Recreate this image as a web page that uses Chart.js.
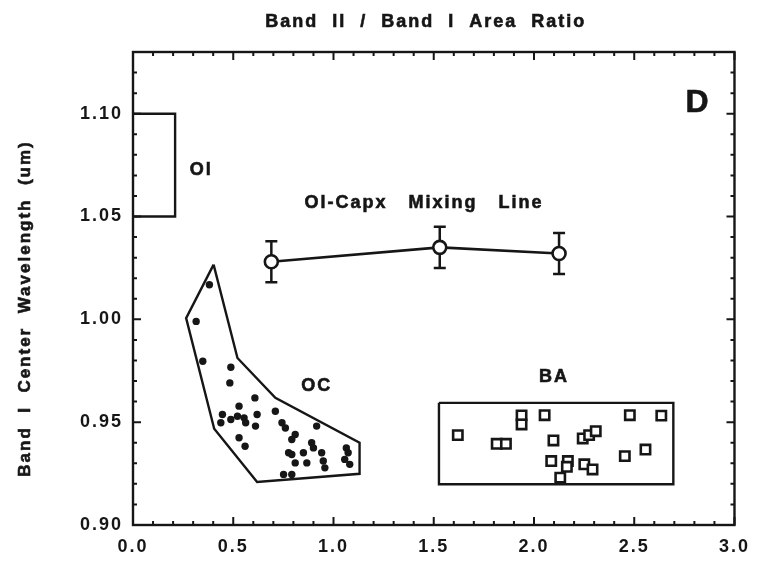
<!DOCTYPE html>
<html>
<head>
<meta charset="utf-8">
<script src="https://cdn.jsdelivr.net/npm/chart.js@4.4.0/dist/chart.umd.min.js"></script>
<style>
  html, body { margin: 0; padding: 0; background: #fff; }
</style>
</head>
<body>
<canvas id="chart" width="761" height="562"></canvas>
<script>
// Ol-Capx mixing line (with +/- error)
const mixX = [0.69, 1.53, 2.125];
const mixY = [1.028, 1.035, 1.032];
const mixErr = [0.01, 0.01, 0.01];

// OC samples
const ocX = [0.381, 0.315, 0.348, 0.488, 0.483, 0.608, 0.529, 0.446, 0.488, 0.521,
  0.554, 0.562, 0.619, 0.611, 0.438, 0.710, 0.743, 0.760, 0.809, 0.792,
  0.529, 0.559, 0.916, 0.891, 0.900, 0.776, 0.792, 0.850, 0.809, 0.867,
  0.941, 0.949, 0.957, 1.064, 1.073, 1.056, 1.081, 0.751, 0.792];
const ocY = [1.0168, 0.9990, 0.9796, 0.9767, 0.9691, 0.9618, 0.9578, 0.9537, 0.9513, 0.9529,
  0.9521, 0.9497, 0.9537, 0.9481, 0.9497, 0.9553, 0.9497, 0.9472, 0.9440, 0.9416,
  0.9424, 0.9383, 0.9481, 0.9400, 0.9375, 0.9351, 0.9343, 0.9351, 0.9302, 0.9302,
  0.9351, 0.9311, 0.9278, 0.9375, 0.9351, 0.9319, 0.9295, 0.9246, 0.9246];
// OC field outline
const ocFieldX = [0.402, 0.265, 0.405, 0.619, 1.130, 1.130, 0.710, 0.521, 0.402];
const ocFieldY = [1.0266, 1.0006, 0.9468, 0.9209, 0.9249, 0.9400, 0.9618, 0.9812, 1.0266];

// BA samples
const baX = [1.620, 1.814, 1.860, 1.938, 1.938, 2.053, 2.097, 2.086, 2.169, 2.164,
  2.131, 2.243, 2.275, 2.308, 2.251, 2.292, 2.453, 2.556, 2.478, 2.635];
const baY = [0.9437, 0.9395, 0.9395, 0.9533, 0.9489, 0.9534, 0.9411, 0.9311, 0.9311, 0.9283,
  0.9230, 0.9421, 0.9437, 0.9456, 0.9295, 0.9270, 0.9335, 0.9367, 0.9534, 0.9532];
// BA field box
const baFieldX = [1.526, 2.695, 2.695, 1.526, 1.526];
const baFieldY = [0.9594, 0.9594, 0.9198, 0.9198, 0.9594];

// Ol range box
const olFieldX = [0, 0.21, 0.21, 0];
const olFieldY = [1.10, 1.10, 1.05, 1.05];

// axis ticks
const xTicks = [0, 0.5, 1.0, 1.5, 2.0, 2.5, 3.0];
const yTicks = [0.90, 0.95, 1.00, 1.05, 1.10];

// text inside the plot
const noteText = ['Ol', 'Ol-Capx   Mixing   Line', 'OC', 'BA', 'D'];
const noteX = [0.34, 1.451, 0.916, 2.10, 2.818];
const noteY = [1.0728, 1.0565, 0.9675, 0.9718, 1.105];
const noteSize = [18, 18, 18, 18, 32];

const xTitle = 'Band  II  /  Band  I  Area  Ratio';
const yTitle = 'Band  I  Center  Wavelength  (um)';

const ink = '#161616';
const fontFamily = '"Liberation Sans", Arial, sans-serif';
const toPts = (xs, ys) => xs.map((v, i) => ({ x: v, y: ys[i] }));

// canvas letter spacing (the scanned figure uses wide, spaced type)
const spacing = {
  id: 'spacing',
  beforeUpdate(chart) { chart.ctx.letterSpacing = '2px'; },
  beforeDraw(chart) { chart.ctx.letterSpacing = '2px'; }
};

function heavyText(ctx, t, px, py) {
  ctx.fillText(t, px, py);
  ctx.strokeText(t, px, py);
}

// error bars on the mixing line, behind the circles
const errorBars = {
  id: 'errorBars',
  beforeDatasetsDraw(chart) {
    const { ctx, scales: { x, y } } = chart;
    ctx.save();
    ctx.strokeStyle = ink;
    ctx.lineWidth = 2.5;
    mixX.forEach((v, i) => {
      const px = x.getPixelForValue(v);
      const top = y.getPixelForValue(mixY[i] + mixErr[i]);
      const bot = y.getPixelForValue(mixY[i] - mixErr[i]);
      ctx.beginPath();
      ctx.moveTo(px, top); ctx.lineTo(px, bot);
      ctx.moveTo(px - 6, top); ctx.lineTo(px + 6, top);
      ctx.moveTo(px - 6, bot); ctx.lineTo(px + 6, bot);
      ctx.stroke();
    });
    ctx.restore();
  }
};

// closed frame with inward ticks on all four sides, titles and notes
const frame = {
  id: 'frame',
  afterDatasetsDraw(chart) {
    const { ctx, chartArea: a, scales: { x, y } } = chart;
    ctx.save();
    ctx.strokeStyle = ink;
    ctx.lineWidth = 2.4;
    ctx.strokeRect(a.left, a.top, a.right - a.left, a.bottom - a.top);
    ctx.lineWidth = 2;
    ctx.beginPath();
    for (let i = 0; i <= 30; i++) {
      const px = x.getPixelForValue(i / 10);
      const len = i % 5 === 0 ? 8 : 4;
      ctx.moveTo(px, a.bottom); ctx.lineTo(px, a.bottom - len);
      ctx.moveTo(px, a.top); ctx.lineTo(px, a.top + len);
    }
    for (let i = 0; i <= 23; i++) {
      const py = y.getPixelForValue(0.9 + i / 100);
      const len = i % 5 === 0 ? 8 : 4;
      ctx.moveTo(a.left, py); ctx.lineTo(a.left + len, py);
      ctx.moveTo(a.right, py); ctx.lineTo(a.right - len, py);
    }
    ctx.stroke();

    ctx.fillStyle = ink;
    ctx.lineWidth = 0.6;
    ctx.textAlign = 'center';
    ctx.textBaseline = 'middle';
    noteText.forEach((t, i) => {
      ctx.font = 'bold ' + noteSize[i] + 'px ' + fontFamily;
      heavyText(ctx, t, x.getPixelForValue(noteX[i]), y.getPixelForValue(noteY[i]));
    });

    // axis titles: x title sits above the frame, y title down the left side
    ctx.font = 'bold 18px ' + fontFamily;
    heavyText(ctx, xTitle, (a.left + a.right) / 2 - 8, 22);
    ctx.translate(25, (a.top + a.bottom) / 2 + 20);
    ctx.rotate(-Math.PI / 2);
    ctx.font = 'bold 17px ' + fontFamily;
    heavyText(ctx, yTitle, 0, 0);
    ctx.restore();
  }
};

const tickFont = { family: fontFamily, size: 18, weight: 'bold' };

new Chart(document.getElementById('chart').getContext('2d'), {
  type: 'scatter',
  data: {
    datasets: [
      {
        label: 'Ol',
        data: toPts(olFieldX, olFieldY),
        showLine: true, pointRadius: 0, borderColor: ink, borderWidth: 2.4, fill: false
      },
      {
        label: 'OC field',
        data: toPts(ocFieldX, ocFieldY),
        showLine: true, pointRadius: 0, borderColor: ink, borderWidth: 2.4, fill: false
      },
      {
        label: 'BA field',
        data: toPts(baFieldX, baFieldY),
        showLine: true, pointRadius: 0, borderColor: ink, borderWidth: 2.4, fill: false
      },
      {
        label: 'OC',
        data: toPts(ocX, ocY),
        pointRadius: 3.7, pointBackgroundColor: ink, pointBorderWidth: 0
      },
      {
        label: 'BA',
        data: toPts(baX, baY),
        pointStyle: 'rect', pointRadius: 6.6,
        pointBackgroundColor: '#fff', pointBorderColor: ink, pointBorderWidth: 2.6
      },
      {
        label: 'Ol-Capx Mixing Line',
        data: toPts(mixX, mixY),
        showLine: true, borderColor: ink, borderWidth: 2.6,
        pointRadius: 6.5, pointBackgroundColor: '#fff', pointBorderColor: ink, pointBorderWidth: 2.6
      }
    ]
  },
  options: {
    responsive: false,
    animation: false,
    devicePixelRatio: 1,
    layout: { padding: { top: 52, right: 21 } },
    plugins: {
      legend: { display: false },
      tooltip: { enabled: false },
      title: { display: false }
    },
    scales: {
      x: {
        type: 'linear', min: 0, max: 3,
        grid: { display: false, drawTicks: false },
        border: { display: false },
        afterBuildTicks: s => { s.ticks = xTicks.map(v => ({ value: v })); },
        afterFit: s => { s.height = 37; },
        ticks: { color: ink, font: tickFont, padding: 11, callback: v => v.toFixed(1), autoSkip: false, maxRotation: 0 }
      },
      y: {
        type: 'linear', min: 0.9, max: 1.13,
        grid: { display: false, drawTicks: false },
        border: { display: false },
        afterBuildTicks: s => { s.ticks = yTicks.map(v => ({ value: v })); },
        afterFit: s => { s.width = 133; },
        ticks: { color: ink, font: tickFont, padding: 10, callback: v => v.toFixed(2), autoSkip: false }
      }
    }
  },
  plugins: [spacing, errorBars, frame]
});
</script>
</body>
</html>
